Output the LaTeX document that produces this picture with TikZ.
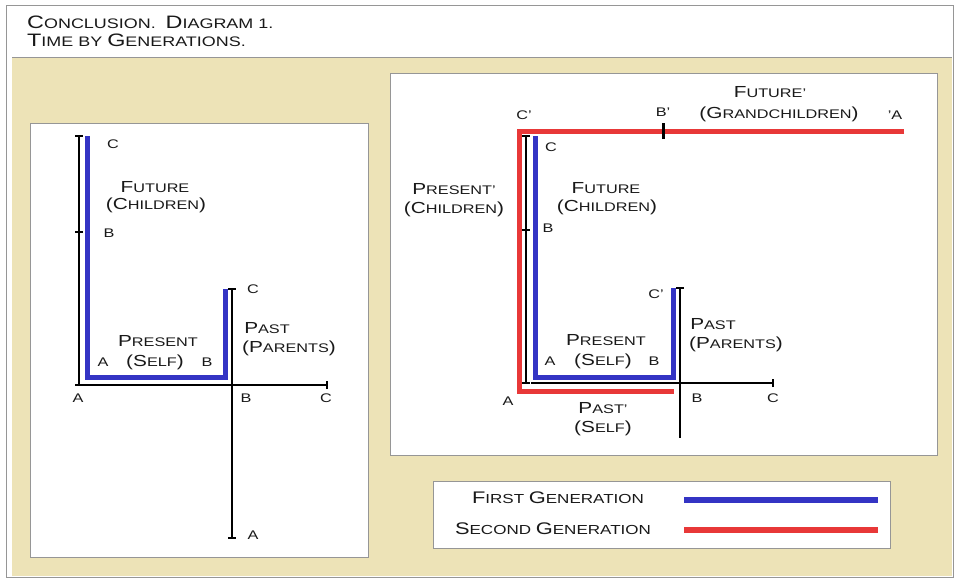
\documentclass[tikz,border=0pt]{standalone}
\usepackage{fontspec}
\setmainfont{Liberation Sans}[FakeStretch=1.3]
\newcommand\BG[1]{{\fontsize{16}{16}\selectfont #1}}
\newcommand\LB[1]{{\fontsize{16.8}{16.8}\selectfont #1}}
\newcommand\TB[1]{{\fontsize{18}{18}\selectfont #1}}
\definecolor{tanbg}{RGB}{237,227,183}
\definecolor{genblue}{RGB}{52,52,196}
\definecolor{genred}{RGB}{232,56,56}
\definecolor{framegray}{RGB}{150,150,150}
\begin{document}
\begin{tikzpicture}[x=1pt,y=-1pt,
 lbl/.style={inner sep=0pt, anchor=base, font=\fontsize{12.5}{12.5}\selectfont, text=black!90},
 leg/.style={inner sep=0pt, anchor=base, font=\fontsize{13.1}{13.1}\selectfont, text=black!90},
 ttl/.style={inner sep=0pt, anchor=base west, font=\fontsize{13.8}{13.8}\selectfont, text=black!90},
 axis/.style={line width=2.2pt, black},
 tickmark/.style={line width=1.8pt, black},
 gen1/.style={line width=5pt, genblue, line join=miter},
 gen2/.style={line width=5pt, genred, line join=miter},
 panel/.style={fill=white, draw=framegray, line width=0.8pt}]
\useasboundingbox (0,0) rectangle (954,578);
\fill[white] (0,0) rectangle (954,578);
\draw[framegray, line width=0.8pt] (6,5) rectangle (953,577);
\fill[tanbg] (12,57) rectangle (952,576);
\draw[framegray, line width=0.8pt] (12,57) -- (952,57);
% title
\node[ttl] (t1) at (27,29) {\TB{C}ONCLUSION.\ \ \TB{D}IAGRAM 1.};
\node[ttl] (t2) at (27,47) {\TB{T}IME BY \TB{G}ENERATIONS.};
% panels
\draw[panel] (30,123) rectangle (368,557);
\draw[panel] (390,73) rectangle (937,455);
\draw[panel] (433,481) rectangle (890,548);

% ---------- left diagram ----------
\coordinate (LvT) at (79,136);
\coordinate (LvB) at (79,232);
\coordinate (LvA) at (79,385);
\coordinate (LhC) at (327,385);
\coordinate (PvC) at (232,289);
\coordinate (PvA) at (232,538);
\coordinate (Lb1) at (87,136);
\coordinate (Lb2) at (87,377);
\coordinate (Lb3) at (225,377);
\coordinate (Lb4) at (225,289);
\draw[axis] (LvT) -- (LvA) -- (LhC);
\draw[axis] (PvC) -- (PvA);
\draw[tickmark] ([xshift=-4pt]LvT) -- ([xshift=4pt]LvT);
\draw[tickmark] ([xshift=-4pt]LvB) -- ([xshift=4pt]LvB);
\draw[tickmark] ([xshift=-4pt]LvA) -- ([xshift=4pt]LvA);
\draw[tickmark] ([yshift=-4pt]LhC) -- ([yshift=4pt]LhC);
\draw[tickmark] ([xshift=-4pt]PvC) -- ([xshift=4pt]PvC);
\draw[tickmark] ([xshift=-4pt]PvA) -- ([xshift=4pt]PvA);
\draw[gen1] (Lb1) -- (Lb2) -- (Lb3) -- (Lb4);

\node[lbl] (l1) at (113,148) {C};
\node[lbl] (l2) at (155,192) {\BG{F}UTURE};
\node[lbl] (l3) at (156,209) {\BG{(C}HILDREN\BG{)}};
\node[lbl] (l4) at (109,237) {B};
\node[lbl] (l5) at (253,293) {C};
\node[lbl] (l6) at (267,333) {\BG{P}AST};
\node[lbl] (l7) at (289,352) {\BG{(P}ARENTS\BG{)}};
\node[lbl] (l8) at (158,346) {\BG{P}RESENT};
\node[lbl] (l9) at (103,366) {A};
\node[lbl] (l10) at (155,366) {\BG{(S}ELF\BG{)}};
\node[lbl] (l11) at (207,366) {B};
\node[lbl] (l12) at (78,402) {A};
\node[lbl] (l13) at (246,402) {B};
\node[lbl] (l14) at (326,402) {C};
\node[lbl] (l15) at (253,539) {A};

% ---------- right diagram ----------
\coordinate (Rr1) at (904,131);
\coordinate (Rr2) at (519,131);
\coordinate (Rr3) at (519,391);
\coordinate (Rr4) at (674,391);
\coordinate (RBp) at (663,131);
\draw[gen2] (Rr1) -- (Rr2) -- (Rr3) -- (Rr4);
\draw[line width=3pt, black] ([yshift=-8pt]RBp) -- ([yshift=8pt]RBp);

\coordinate (RvT) at (526,136);
\coordinate (RvB) at (526,230);
\coordinate (RvA) at (526,383);
\coordinate (RhS) at (531,383);
\coordinate (RhC) at (773,383);
\coordinate (RpC) at (680,288);
\coordinate (RpA) at (680,438);
\draw[axis] (RvT) -- (RvA);
\draw[axis] (RhS) -- (RhC);
\draw[axis] (RpC) -- (RpA);
\draw[tickmark] ([xshift=-4pt]RvT) -- ([xshift=4pt]RvT);
\draw[tickmark] ([xshift=-4pt]RvB) -- ([xshift=4pt]RvB);
\draw[tickmark] ([xshift=-4pt]RvA) -- ([xshift=4pt]RvA);
\draw[tickmark] ([yshift=-4pt]RhC) -- ([yshift=4pt]RhC);
\draw[tickmark] ([xshift=-4pt]RpC) -- ([xshift=4pt]RpC);

\coordinate (Rb1) at (535,136);
\coordinate (Rb2) at (535,377);
\coordinate (Rb3) at (673,377);
\coordinate (Rb4) at (673,288);
\draw[gen1] (Rb1) -- (Rb2) -- (Rb3) -- (Rb4);

\node[lbl] (r1) at (524,119) {C'};
\node[lbl] (r2) at (663,117) {B'};
\node[lbl] (r3) at (770,98) {\BG{F}UTURE'};
\node[lbl] (r4) at (779,118) {\BG{(G}RANDCHILDREN\BG{)}};
\node[lbl] (r5) at (895,120) {'A};
\node[lbl] (r6) at (551,151) {C};
\node[lbl] (r7) at (454,194) {\BG{P}RESENT'};
\node[lbl] (r8) at (454,213) {\BG{(C}HILDREN\BG{)}};
\node[lbl] (r9) at (606,193) {\BG{F}UTURE};
\node[lbl] (r10) at (607,211) {\BG{(C}HILDREN\BG{)}};
\node[lbl] (r11) at (548,232) {B};
\node[lbl] (r12) at (656,298) {C'};
\node[lbl] (r13) at (713,329) {\BG{P}AST};
\node[lbl] (r14) at (736,348) {\BG{(P}ARENTS\BG{)}};
\node[lbl] (r15) at (606,345) {\BG{P}RESENT};
\node[lbl] (r16) at (550,365) {A};
\node[lbl] (r17) at (603,365) {\BG{(S}ELF\BG{)}};
\node[lbl] (r18) at (654,365) {B};
\node[lbl] (r19) at (508,405) {A};
\node[lbl] (r20) at (603,413) {\BG{P}AST'};
\node[lbl] (r21) at (603,432) {\BG{(S}ELF\BG{)}};
\node[lbl] (r22) at (697,402) {B};
\node[lbl] (r23) at (773,402) {C};

% ---------- legend ----------
\node[leg] (g1) at (558,503) {\LB{F}IRST \LB{G}ENERATION};
\node[leg] (g2) at (553,534) {\LB{S}ECOND \LB{G}ENERATION};
\coordinate (gb1) at (684,500);
\coordinate (gb2) at (878,500);
\coordinate (gr1) at (684,530);
\coordinate (gr2) at (878,530);
\draw[line width=6pt, genblue] (gb1) -- (gb2);
\draw[line width=6pt, genred] (gr1) -- (gr2);
\end{tikzpicture}
\end{document}
